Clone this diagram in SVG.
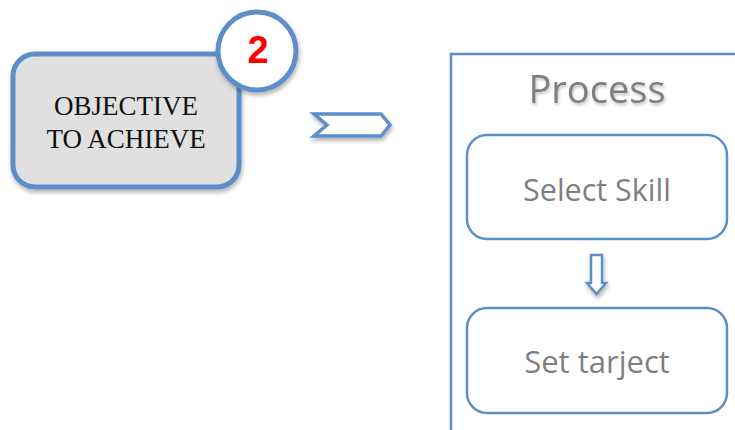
<svg xmlns="http://www.w3.org/2000/svg" width="735" height="430" viewBox="0 0 735 430">
<defs>
<filter id="sh" x="-20%" y="-20%" width="150%" height="160%">
<feDropShadow dx="1" dy="3" stdDeviation="2" flood-color="#000" flood-opacity="0.3"/>
</filter>
<filter id="tsh" x="-10%" y="-20%" width="120%" height="150%">
<feDropShadow dx="1" dy="2" stdDeviation="1.5" flood-color="#000" flood-opacity="0.25"/>
</filter>
</defs>
<style>
.blue{stroke:#5b8fc9;fill:#fff}
.node{stroke:#5b8fc9;stroke-width:2.5;fill:#fff}
.lbl{font-family:"Open Sans","Liberation Sans",sans-serif;fill:#7f7f7f;text-anchor:middle}
</style>
<rect width="735" height="430" fill="#fff"/>
<g id="objective">
<rect x="13" y="54" width="226" height="133" rx="22" fill="#e0e0e0" stroke="#5b8fc9" stroke-width="5" filter="url(#sh)"/>
<text x="126" y="115" font-family="Liberation Serif,serif" font-size="27" text-anchor="middle" fill="#111">OBJECTIVE</text>
<text x="126" y="148" font-family="Liberation Serif,serif" font-size="27" text-anchor="middle" fill="#111">TO ACHIEVE</text>
</g>
<g id="badge">
<circle cx="257" cy="51" r="39" fill="#fff" stroke="#5b8fc9" stroke-width="5" filter="url(#sh)"/>
<text x="258" y="63" font-family="Liberation Sans,sans-serif" font-size="38" font-weight="bold" text-anchor="middle" fill="#ff0000">2</text>
</g>
<g id="chevron">
<polygon points="314,114 381,114 390,125 381,136 314,136 327,125" class="blue" stroke-width="3.5" filter="url(#sh)"/>
</g>
<g id="process">
<path d="M451,430 V54 H735" fill="none" stroke="#5b8fc9" stroke-width="2.5"/>
<line x1="451" y1="115" x2="735" y2="115" stroke="#5b8fc9" stroke-width="3" filter="url(#sh)"/>
<text x="597" y="103" class="lbl" font-size="38" filter="url(#tsh)">Process</text>
</g>
<g id="select-skill">
<rect x="467" y="135" width="260" height="104" rx="20" class="node"/>
<text x="597" y="201" class="lbl" font-size="30.5">Select Skill</text>
</g>
<g id="set-tarject">
<rect x="467" y="308" width="260" height="105" rx="20" class="node"/>
<text x="597" y="373" class="lbl" font-size="31">Set tarject</text>
</g>
<g id="connectors">
<polygon points="591,255 602,255 602,283 606,283 596.5,294 587,283 591,283" class="blue" stroke-width="2.5" filter="url(#sh)"/>
</g>
</svg>
